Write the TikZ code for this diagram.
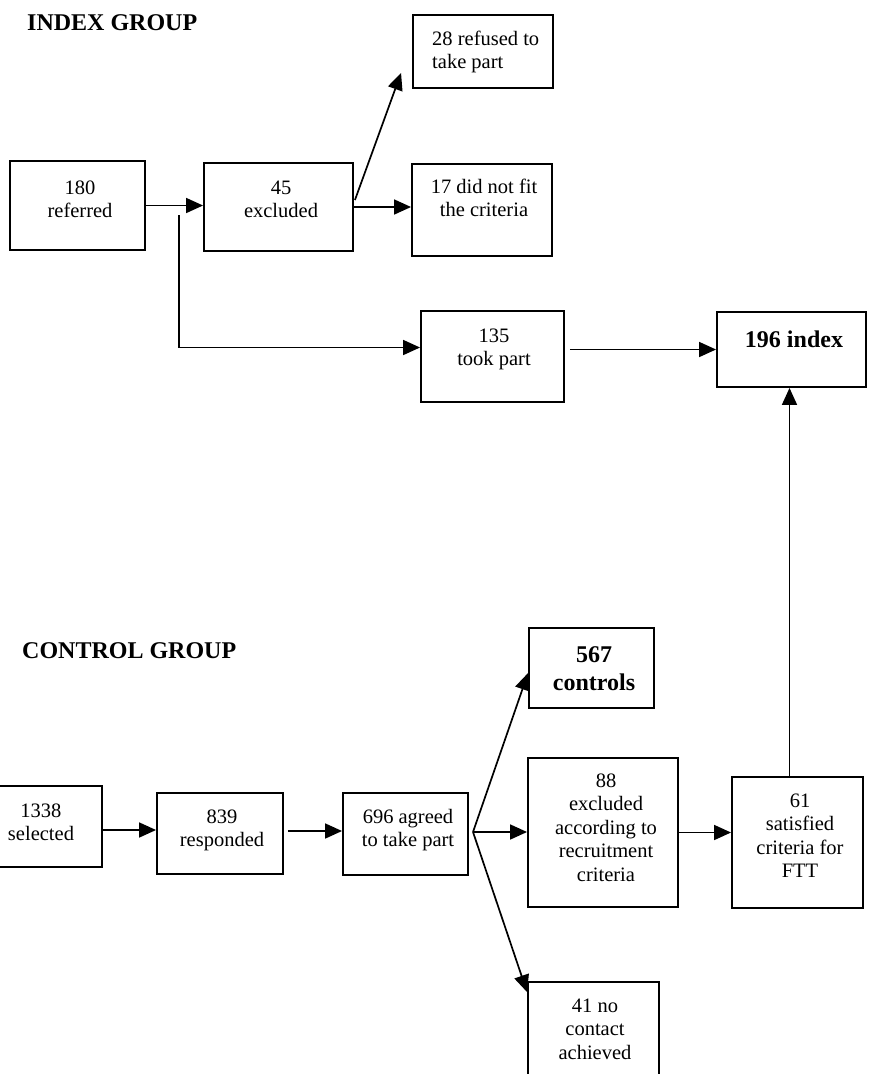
\documentclass[tikz,border=0pt]{standalone}
\usepackage{fontspec}
\setmainfont{Liberation Serif}
\usetikzlibrary{arrows.meta,calc}
\begin{document}
\begin{tikzpicture}[x=1pt,y=-1pt,
  box/.style={draw, line width=1.9pt, inner sep=0pt},
  txt/.style={font=\fontsize{20.5}{23.5}\selectfont, align=center, anchor=base, inner sep=0pt},
  btxt/.style={font=\bfseries\fontsize{24}{28.5}\selectfont, align=center, anchor=base, inner sep=0pt},
  head/.style={font=\bfseries\fontsize{24}{28}\selectfont, anchor=base west, inner sep=0pt},
  arr/.style={line width=1.7pt, -{Triangle[length=17pt,width=15pt]}}]
\useasboundingbox (0,0) rectangle (869,1074);
\clip (0,0) rectangle (869,1074);
\fill[white] (0,0) rectangle (869,1074);

% headings
\node[head] (hidx) at (27,30) {INDEX GROUP};
\node[head] (hctl) at (22,658) {CONTROL GROUP};

% index group boxes
\node[box, minimum width=135pt, minimum height=89pt] (ref) at (77.5,205.5) {};
\node[box, minimum width=149pt, minimum height=88pt] (exc) at (278.5,207) {};
\node[box, minimum width=140pt, minimum height=73pt] (refu) at (483,51.5) {};
\node[box, minimum width=140pt, minimum height=92pt] (fit) at (482,210) {};
\node[box, minimum width=143pt, minimum height=91pt] (took) at (492.5,356.5) {};
\node[box, minimum width=149pt, minimum height=75pt] (idx) at (791.5,349.5) {};

% (anchor=base of a multi-line node is the baseline of its last line)
\node[txt] (tref) at (80,217.5) {180\\referred};
\node[txt] (texc) at (281,217.5) {45\\excluded};
\node[txt, anchor=base west, align=left] (trefu) at (432,68.5) {28 refused to\\take part};
\node[txt] (tfit) at (484,216.5) {17 did not fit\\the criteria};
\node[txt] (ttook) at (494,365.5) {135\\took part};
\node[btxt] (tidx) at (794,347) {196 index};

% control group boxes
\node[box, minimum width=122pt, minimum height=81pt] (sel) at (41,826.5) {};
\node[box, minimum width=126pt, minimum height=81pt] (resp) at (220,833.5) {};
\node[box, minimum width=125pt, minimum height=82pt] (agr) at (405.5,834) {};
\node[box, minimum width=125pt, minimum height=80pt] (ctl) at (591.5,668) {};
\node[box, minimum width=150pt, minimum height=149pt] (exe) at (603,832.5) {};
\node[box, minimum width=131pt, minimum height=131pt] (ftt) at (797.5,842.5) {};
\node[box, minimum width=131pt, minimum height=118pt] (noc) at (593.5,1041) {};

\node[txt] (tsel) at (41,840.5) {1338\\selected};
\node[txt] (tresp) at (222,846.5) {839\\responded};
\node[txt] (tagr) at (408,846.5) {696 agreed\\to take part};
\node[btxt] (tctl) at (594,690.5) {567\\controls};
\node[txt] (texe) at (606,881) {88\\excluded\\according to\\recruitment\\criteria};
\node[txt] (tftt) at (800,877.5) {61\\satisfied\\criteria for\\FTT};
\node[txt] (tnoc) at (595,1059) {41 no\\contact\\achieved};

% index connectors
\draw[arr] (ref.east) -- (ref.east -| exc.west);
\draw[arr] (exc.east) -- (exc.east -| fit.west);
\draw[arr] ($(exc.east)+(1,-7)$) -- ($(refu.south west)+(-11,-16)$);
\coordinate (split) at (179,215);
\draw[arr] (split) |- ($(took.west)+(0,-9)$);
\draw[arr] ($(took.east |- idx.west)+(5,0)$) -- (idx.west);

% control connectors
\draw[arr] ($(sel.east)+(0,3.5)$) -- ($(sel.east -| resp.west)+(0,3.5)$);
\draw[arr] ($(resp.east)+(4,-2.5)$) -- ($(resp.east -| agr.west)+(0,-2.5)$);
\coordinate (br) at (473,832);
\draw[arr] (br) -- ($(ctl.west)+(0,5)$);
\draw[arr] (br) -- (br -| exe.west);
\draw[arr] (br) -- ($(noc.north west)+(0,11)$);
\draw[arr] (exe.east) -- (exe.east -| ftt.west);
\draw[arr] ($(ftt.north)+(-8,0)$) -- ($(ftt.north |- idx.south)+(-8,0)$);
\end{tikzpicture}
\end{document}
